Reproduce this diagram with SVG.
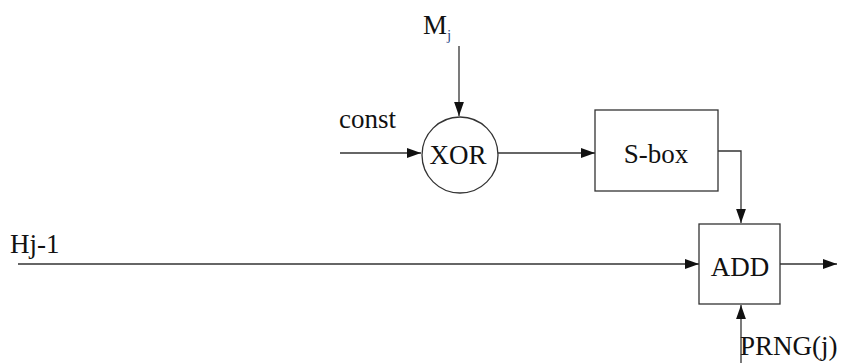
<svg xmlns="http://www.w3.org/2000/svg" width="847" height="363" viewBox="0 0 847 363">
<style>
text{font-family:"Liberation Serif","DejaVu Serif","Times New Roman",serif;font-size:27px;fill:#111}
.n{fill:#fff;stroke:#333;stroke-width:1.3}
.c{fill:none;stroke:#333;stroke-width:1.3}
</style>
<defs>
<marker id="a" viewBox="0 0 10 10" refX="10" refY="5" markerWidth="14" markerHeight="14" markerUnits="userSpaceOnUse" orient="auto">
<path d="M0,1.5 L10,5 L0,8.5 z" fill="#111"/>
</marker>
</defs>
<rect width="847" height="363" fill="#fff"/>
<g id="connectors">
<line class="c" x1="459" y1="46" x2="459" y2="116" marker-end="url(#a)"/>
<line class="c" x1="340" y1="153" x2="421" y2="153" marker-end="url(#a)"/>
<line class="c" x1="498" y1="153" x2="595" y2="153" marker-end="url(#a)"/>
<polyline class="c" points="718,151 741,151 741,223" marker-end="url(#a)"/>
<line class="c" x1="18" y1="264" x2="699" y2="264" marker-end="url(#a)"/>
<line class="c" x1="780" y1="264" x2="837" y2="264" marker-end="url(#a)"/>
<line class="c" x1="741" y1="363" x2="741" y2="305" marker-end="url(#a)"/>
</g>
<g id="xor">
<circle class="n" cx="460" cy="155" r="38"/>
<text x="458" y="164" text-anchor="middle" font-family="Liberation Serif, serif">XOR</text>
</g>
<g id="sbox">
<rect class="n" x="595" y="110" width="123" height="81"/>
<text x="656" y="163" text-anchor="middle" font-family="Liberation Serif, serif">S-box</text>
</g>
<g id="add">
<rect class="n" x="699" y="224" width="81" height="80"/>
<text x="740" y="276" text-anchor="middle" font-family="Liberation Serif, serif">ADD</text>
</g>
<g id="labels" font-family="Liberation Serif, serif">
<text x="423" y="34">M<tspan font-size="15" dy="6" fill="#2a4a8a">j</tspan></text>
<text x="339" y="128">const</text>
<text x="10" y="253">Hj-1</text>
<text x="740" y="355">PRNG(j)</text>
</g>
</svg>
